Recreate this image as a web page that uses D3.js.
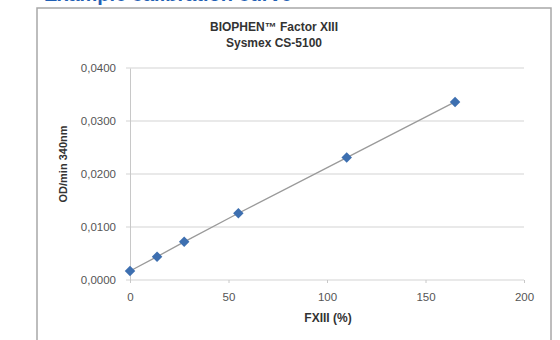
<!DOCTYPE html>
<html>
<head>
<meta charset="utf-8">
<script src="https://cdn.jsdelivr.net/npm/d3@7"></script>
<style>
  body { margin: 0; background: #fff; }
</style>
</head>
<body>
<div id="plot"></div>
<script>
// calibration points
var fxiii = [0, 13.75, 27.5, 55, 110, 165];
var odmin = [0.0017, 0.0044, 0.0072, 0.0126, 0.0231, 0.0336];
var xTicks = [0, 50, 100, 150, 200];
var yTicks = [0, 0.01, 0.02, 0.03, 0.04];
var titleLines = ["BIOPHEN\u2122 Factor XIII", "Sysmex CS-5100"];

var data = fxiii.map(function(x, i){ return {x: x, y: odmin[i]}; });

var width = 560;
var height = 340;
var font = "Liberation Sans, Arial, sans-serif";

var svg = d3.select("#plot").append("svg")
  .attr("width", width).attr("height", height)
  .style("display", "block");

// heading of the page, cut by the top edge like in the scan
svg.append("text")
  .attr("x", 44).attr("y", 1)
  .attr("font-family", font)
  .attr("font-size", "20px")
  .attr("font-weight", "bold")
  .attr("fill", "#1f5fb4")
  .text("Example calibration curve");

// chart frame
svg.append("rect")
  .attr("x", 37).attr("y", 8)
  .attr("width", 514).attr("height", 345)
  .attr("fill", "#fff")
  .attr("stroke", "#a8a8a8")
  .attr("stroke-width", 1.5);

var x = d3.scaleLinear().domain([0, 200]).range([130, 524]);
var y = d3.scaleLinear().domain([0, 0.04]).range([280, 68]);

// gridlines
svg.append("g").selectAll("line").data(yTicks).enter().append("line")
  .attr("x1", 126).attr("x2", 524)
  .attr("y1", function(d){ return y(d); })
  .attr("y2", function(d){ return y(d); })
  .attr("stroke", "#d4d4d4")
  .attr("stroke-width", 1.2);

var fmt = function(d){ return d3.format(".4f")(d).replace(".", ","); };

var yaxis = d3.axisLeft(y).tickValues(yTicks).tickFormat(fmt).tickSize(0).tickPadding(14);
var gy = svg.append("g").attr("transform", "translate(130,0)").call(yaxis);
gy.select(".domain").attr("stroke", "#c8c8c8");
gy.selectAll("text")
  .attr("font-family", font)
  .attr("font-size", "11.5px")
  .attr("fill", "#555");

var xaxis = d3.axisBottom(x).tickValues(xTicks).tickSize(3).tickPadding(10);
var gx = svg.append("g").attr("transform", "translate(0,280)").call(xaxis);
gx.select(".domain").remove();
gx.selectAll("line").attr("stroke", "#c8c8c8");
gx.selectAll("text")
  .attr("font-family", font)
  .attr("font-size", "11.5px")
  .attr("fill", "#555");

// line through the points
var line = d3.line()
  .x(function(d){ return x(d.x); })
  .y(function(d){ return y(d.y); });

svg.append("path").datum(data)
  .attr("d", line)
  .attr("fill", "none")
  .attr("stroke", "#9a9a9a")
  .attr("stroke-width", 1.3);

// diamond markers
svg.append("g").selectAll("path").data(data).enter().append("path")
  .attr("d", d3.symbol().type(d3.symbolDiamond2).size(70))
  .attr("transform", function(d){ return "translate(" + x(d.x) + "," + y(d.y) + ")"; })
  .attr("fill", "#3d6fb0");

// titles
var t = svg.append("text")
  .attr("text-anchor", "middle")
  .attr("font-family", font)
  .attr("font-size", "12px")
  .attr("font-weight", "bold")
  .attr("fill", "#333");
t.selectAll("tspan").data(titleLines).enter().append("tspan")
  .attr("x", 274)
  .attr("y", function(d, i){ return 31 + i * 16; })
  .text(function(d){ return d; });

svg.append("text")
  .attr("x", 328).attr("y", 322)
  .attr("text-anchor", "middle")
  .attr("font-family", font)
  .attr("font-size", "12px")
  .attr("font-weight", "bold")
  .attr("fill", "#333")
  .text("FXIII (%)");

svg.append("text")
  .attr("transform", "translate(67,164) rotate(-90)")
  .attr("text-anchor", "middle")
  .attr("font-family", font)
  .attr("font-size", "11px")
  .attr("font-weight", "bold")
  .attr("fill", "#333")
  .text("OD/min 340nm");
</script>
</body>
</html>
